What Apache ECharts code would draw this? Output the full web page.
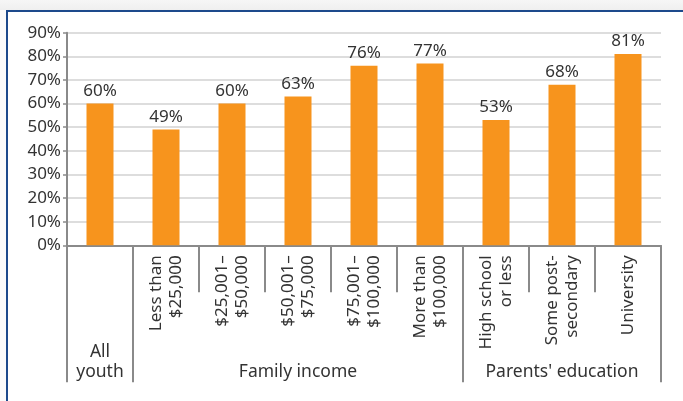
<!DOCTYPE html>
<html>
<head>
<meta charset="utf-8">
<script src="https://cdn.jsdelivr.net/npm/echarts@6/dist/echarts.min.js"></script>
<style>
  html, body { margin: 0; padding: 0; width: 683px; height: 401px; overflow: hidden; background: #fbfbfb; }
  #topband { position: absolute; left: 0; top: 0; width: 683px; height: 10px;
             background: linear-gradient(#f6f6f6, #efefef); }
  #frame { position: absolute; left: 6px; top: 10px; width: 677px; height: 391px; box-sizing: border-box;
           border-top: 2px solid #1d4a8c; border-left: 2px solid #1d4a8c; background: #ffffff; }
  #chart { position: absolute; left: 0; top: 0; width: 683px; height: 401px; }
</style>
</head>
<body>
<div id="topband"></div>
<div id="frame"></div>
<div id="chart"></div>
<script>
// Share of youth by family income and parents' education
const categories = [
  '',
  'Less than\n$25,000',
  '$25,001–\n$50,000',
  '$50,001–\n$75,000',
  '$75,001–\n$100,000',
  'More than\n$100,000',
  'High school\nor less',
  'Some post-\nsecondary',
  'University'
];
const values = [60, 49, 60, 63, 76, 77, 53, 68, 81];
const groupNames = ['All\nyouth', 'Family income', "Parents' education"];
const groupSizes = [1, 5, 3];
const yTicks = [0, 10, 20, 30, 40, 50, 60, 70, 80, 90];

// first category index of each group, and the centre category of each group
const groupStarts = [];
const groupCenters = {};
let acc = 0;
groupSizes.forEach((n, g) => {
  groupStarts.push(acc);
  groupCenters[acc + (n - 1) / 2] = groupNames[g];
  acc += n;
});

const FONT = '"Noto Sans", "Open Sans", sans-serif';
const TEXT = '#333333';
const AXIS = '#8a8a8a';

const chart = echarts.init(document.getElementById('chart'), null, { renderer: 'canvas' });
chart.setOption({
  backgroundColor: 'transparent',
  animation: false,
  textStyle: { fontFamily: FONT },
  grid: { left: 67, right: 22, top: 32.7, bottom: 155.7, containLabel: false },
  xAxis: [
    {
      type: 'category',
      position: 'bottom',
      data: categories,
      axisLine: { show: true, lineStyle: { color: AXIS, width: 2 } },
      axisTick: { show: true, interval: 0, length: 47, lineStyle: { color: AXIS, width: 2 } },
      axisLabel: {
        interval: 0, rotate: 90, margin: 10,
        fontFamily: FONT, fontSize: 17, lineHeight: 20, color: TEXT
      }
    },
    {
      // group separators
      type: 'category',
      position: 'bottom',
      data: categories,
      axisLine: { show: false },
      axisTick: {
        show: true, length: 137,
        interval: (idx) => groupStarts.indexOf(idx) >= 0,
        lineStyle: { color: AXIS, width: 2 }
      },
      axisLabel: { show: false }
    },
    {
      // group names
      type: 'category',
      position: 'bottom',
      data: categories,
      axisLine: { show: false },
      axisTick: { show: false },
      axisLabel: {
        show: true,
        interval: (idx) => groupCenters[idx] !== undefined,
        formatter: (v, idx) => groupCenters[idx] || '',
        margin: 137,
        verticalAlign: 'bottom',
        fontFamily: FONT, fontSize: 17.5, lineHeight: 20, color: TEXT
      }
    }
  ],
  yAxis: {
    type: 'value',
    min: yTicks[0],
    max: yTicks[yTicks.length - 1],
    interval: yTicks[1] - yTicks[0],
    axisLine: { show: true, lineStyle: { color: AXIS, width: 2 } },
    axisTick: { show: true, length: 4, lineStyle: { color: AXIS, width: 1.5 } },
    axisLabel: {
      formatter: '{value}%', margin: 6,
      fontFamily: FONT, fontSize: 17, color: TEXT
    },
    splitLine: { show: true, lineStyle: { color: '#d2d2d2', width: 1.5 } }
  },
  series: [{
    type: 'bar',
    xAxisIndex: 0,
    data: values,
    barWidth: 27,
    itemStyle: { color: '#f7941d' },
    label: {
      show: true, position: 'top', distance: 4,
      formatter: (p) => p.value + '%',
      fontFamily: FONT, fontSize: 17, color: TEXT
    }
  }]
});
</script>
</body>
</html>
